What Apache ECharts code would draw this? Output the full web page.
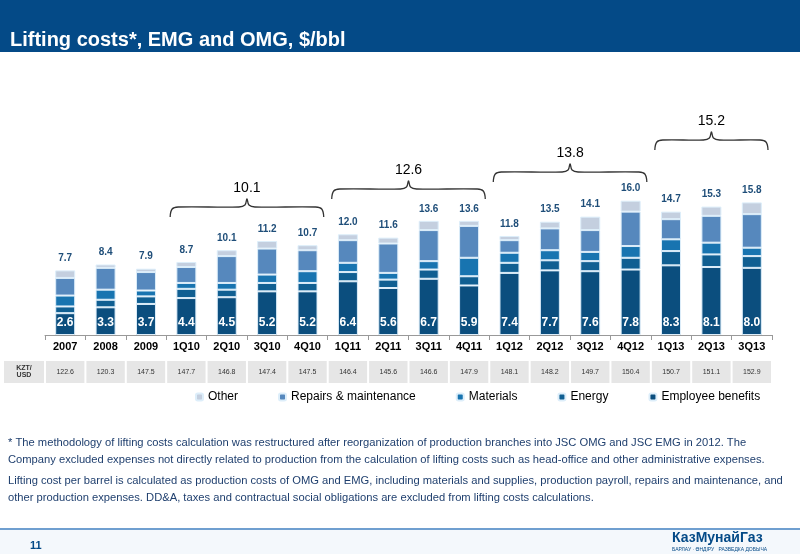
<!DOCTYPE html>
<html><head><meta charset="utf-8">
<script src="https://cdn.jsdelivr.net/npm/echarts@6/dist/echarts.min.js"></script>
<style>html,body{margin:0;padding:0;background:#fff}#c{width:800px;height:554px}</style>
</head><body><div id="c"></div>
<script>
const categories=['2007','2008','2009','1Q10','2Q10','3Q10','4Q10','1Q11','2Q11','3Q11','4Q11','1Q12','2Q12','3Q12','4Q12','1Q13','2Q13','3Q13'];
const employee=[2.6,3.3,3.7,4.4,4.5,5.2,5.2,6.4,5.6,6.7,5.9,7.4,7.7,7.6,7.8,8.3,8.1,8.0];
const energy=[0.8,0.9,0.9,1.1,0.9,1.0,1.0,1.1,1.0,1.1,1.1,1.2,1.2,1.2,1.4,1.7,1.5,1.4];
const materials=[1.3,1.2,0.7,0.7,0.8,1.0,1.4,1.1,0.8,1.0,2.2,1.2,1.2,1.1,1.4,1.4,1.4,1.0];
const repairs=[2.1,2.6,2.2,1.9,3.2,3.1,2.5,2.7,3.5,3.7,3.8,1.5,2.6,2.6,4.1,2.4,3.2,4.0];
const other=[0.9,0.4,0.4,0.6,0.7,0.9,0.6,0.7,0.7,1.1,0.6,0.5,0.8,1.6,1.3,0.9,1.1,1.4];
const totals=['7.7','8.4','7.9','8.7','10.1','11.2','10.7','12.0','11.6','13.6','13.6','11.8','13.5','14.1','16.0','14.7','15.3','15.8'];
const kzt=['122.6','120.3','147.5','147.7','146.8','147.4','147.5','146.4','145.6','146.6','147.9','148.1','148.2','149.7','150.4','150.7','151.1','152.9'];
const groups=[{from:3,to:6,label:'10.1',y:205},{from:7,to:10,label:'12.6',y:187},{from:11,to:14,label:'13.8',y:170},{from:15,to:17,label:'15.2',y:138}];

const chart=echarts.init(document.getElementById('c'));
const F='Liberation Sans, Arial, sans-serif';
const bc='#ddeefa';
const base={type:'bar',stack:'s',barWidth:20};
chart.setOption({
  animation:false,
  textStyle:{fontFamily:F},
  grid:{left:45,right:28,top:100,bottom:219},
  xAxis:{type:'category',data:categories,axisLine:{lineStyle:{color:'#999'}},axisTick:{show:true,lineStyle:{color:'#999'}},
    axisLabel:{color:'#000',fontWeight:'bold',fontSize:11,margin:6}},
  yAxis:{type:'value',min:0,max:28,show:false,splitLine:{show:false}},
  legend:{bottom:146,left:190,itemWidth:7,itemHeight:7,itemGap:40,textStyle:{fontSize:12,color:'#000'},
    data:['Other','Repairs & maintenance','Materials','Energy','Employee benefits']},
  series:[
    Object.assign({},base,{name:'Employee benefits',data:employee,itemStyle:{color:'#0b4e7e',borderColor:bc,borderWidth:1},
      label:{show:true,position:'insideBottom',distance:6,color:'#fff',fontWeight:'bold',fontSize:12,formatter:p=>p.value.toFixed(1)}}),
    Object.assign({},base,{name:'Energy',data:energy,itemStyle:{color:'#105f92',borderColor:bc,borderWidth:1}}),
    Object.assign({},base,{name:'Materials',data:materials,itemStyle:{color:'#1874b0',borderColor:bc,borderWidth:1}}),
    Object.assign({},base,{name:'Repairs & maintenance',data:repairs,itemStyle:{color:'#5688bd',borderColor:bc,borderWidth:1}}),
    Object.assign({},base,{name:'Other',data:other,itemStyle:{color:'#c4cfdf',borderColor:bc,borderWidth:1},
      label:{show:true,position:'top',distance:7,color:'#1f4e79',fontWeight:'bold',fontSize:10,formatter:p=>totals[p.dataIndex]}})
  ]
});
const g=[];
g.push({type:'rect',shape:{x:0,y:0,width:800,height:52},style:{fill:'#044a87'}});
g.push({type:'text',x:10,y:30,style:{text:'Lifting costs*, EMG and OMG, $/bbl',fill:'#fff',font:'bold 20px '+F}});
g.push({type:'rect',shape:{x:4,y:361,width:40,height:22},style:{fill:'#e6e6e6'}});
g.push({type:'text',x:24,y:372,style:{text:'KZT/\nUSD',fill:'#333',font:'bold 7px '+F,align:'center',verticalAlign:'middle'}});
const xs=categories.map(c=>chart.convertToPixel({xAxisIndex:0},c));
const step=xs[1]-xs[0];
kzt.forEach((v,i)=>{
  g.push({type:'rect',shape:{x:xs[i]-step/2+1,y:361,width:step-2,height:22},style:{fill:'#e6e6e6'}});
  g.push({type:'text',x:xs[i],y:372,style:{text:v,fill:'#333',font:'7px '+F,align:'center',verticalAlign:'middle'}});
});
groups.forEach(gr=>{
  const x0=xs[gr.from]-step/2+4,x1=xs[gr.to]+step/2-4,m=(x0+x1)/2,y=gr.y;
  g.push({type:'polyline',shape:{points:[[x0,y+12],[x0+2,y+4],[x0+8,y+2],[m-8,y+2],[m-2,y],[m,y-6],[m+2,y],[m+8,y+2],[x1-8,y+2],[x1-2,y+4],[x1,y+12]],smooth:0.4},
    style:{stroke:'#333',lineWidth:1.3,fill:null}});
  g.push({type:'text',x:m,y:y-10,style:{text:gr.label,fill:'#000',font:'14px '+F,align:'center',verticalAlign:'bottom'}});
});
const note='* The methodology of lifting costs calculation was restructured after reorganization of production branches into JSC OMG and JSC EMG in 2012. The Company excluded expenses not directly related to production from the calculation of lifting costs such as head-office and other administrative expenses.';
const note2='Lifting cost per barrel is calculated as production costs of OMG and EMG, including materials and supplies, production payroll, repairs and maintenance, and other production expenses. DD&A, taxes and contractual social obligations are excluded from lifting costs calculations.';
g.push({type:'text',x:8,y:434,style:{text:note,width:786,overflow:'break',lineHeight:17,fill:'#1f3f6e',font:'11.2px '+F}});
g.push({type:'text',x:8,y:472,style:{text:note2,width:786,overflow:'break',lineHeight:17,fill:'#1f3f6e',font:'11.2px '+F}});
g.push({type:'rect',shape:{x:0,y:528,width:800,height:2},style:{fill:'#6f9fd0'}});
g.push({type:'rect',shape:{x:0,y:530,width:800,height:24},style:{fill:'#f4f8fc'}});
g.push({type:'text',x:30,y:540,style:{text:'11',fill:'#044a87',font:'bold 11px '+F}});
g.push({type:'text',x:672,y:531,style:{text:'КазМунайГаз',fill:'#044a87',font:'bold 14px '+F}});
g.push({type:'text',x:672,y:547,style:{text:'БАРЛАУ · ӨНДІРУ   РАЗВЕДКА ДОБЫЧА',fill:'#044a87',font:'5px '+F}});
chart.setOption({graphic:g});
</script></body></html>
